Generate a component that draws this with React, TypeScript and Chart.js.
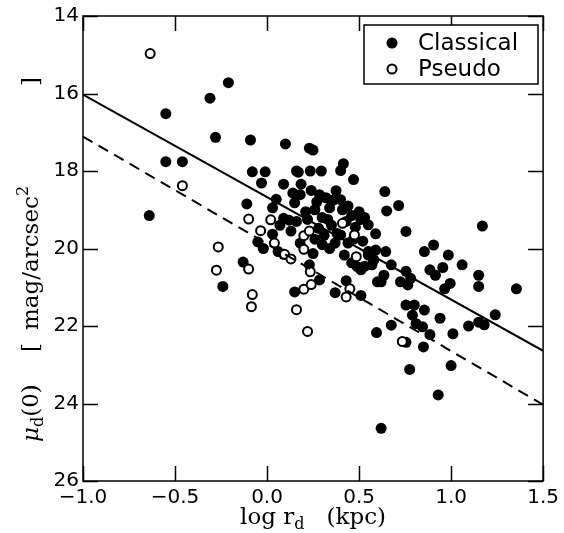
import React, { useEffect, useRef } from "react";
import { Chart, registerables } from "chart.js";

Chart.register(...registerables);

// ---- data ----
const CLASSICAL: [number, number][] = [
  [-0.64, 19.15], [-0.55, 16.52], [-0.55, 17.76], [-0.46, 17.76], [-0.31, 16.12], [-0.28, 17.13],
  [-0.21, 15.72], [-0.24, 20.98], [-0.13, 20.35], [-0.11, 18.85], [-0.09, 17.2], [-0.08, 18.02],
  [-0.01, 18.02], [-0.03, 18.31], [-0.05, 19.83], [-0.02, 20.0], [0.03, 18.95], [0.05, 18.73],
  [0.03, 19.63], [0.06, 20.08], [0.09, 20.15], [0.09, 18.34], [0.10, 17.3], [0.09, 19.22],
  [0.12, 19.27], [0.16, 19.3], [0.16, 18.0], [0.23, 17.41], [0.25, 17.46], [0.235, 18.0],
  [0.17, 18.03], [0.295, 18.0], [0.14, 18.57], [0.18, 18.61], [0.15, 18.82], [0.185, 18.34],
  [0.15, 21.12], [0.18, 19.86], [0.25, 20.13], [0.23, 20.42], [0.285, 20.81], [0.285, 18.61],
  [0.32, 18.69], [0.375, 18.51], [0.40, 18.74], [0.415, 17.81], [0.40, 17.99], [0.47, 18.22],
  [0.21, 19.05], [0.26, 19.0], [0.34, 18.95], [0.41, 19.0], [0.46, 19.15], [0.51, 19.25],
  [0.28, 19.48], [0.26, 19.76], [0.31, 19.66], [0.35, 19.4], [0.38, 19.61], [0.37, 19.86],
  [0.44, 19.86], [0.47, 19.76], [0.52, 19.81], [0.42, 20.17], [0.46, 20.37], [0.49, 20.47],
  [0.55, 20.17], [0.57, 20.42], [0.37, 21.14], [0.43, 20.83], [0.51, 21.21], [0.53, 20.46],
  [0.51, 20.55], [0.55, 20.08], [0.58, 20.29], [0.59, 20.04], [0.645, 20.08], [0.50, 19.05],
  [0.53, 19.2], [0.55, 19.39], [0.59, 19.62], [0.64, 18.53], [0.65, 19.03], [0.715, 18.89],
  [0.755, 19.56], [0.60, 20.86], [0.62, 20.86], [0.635, 20.69], [0.675, 20.42], [0.725, 20.86],
  [0.755, 20.59], [0.78, 20.77], [0.765, 20.94], [0.855, 20.08], [0.905, 19.91], [0.985, 20.17],
  [1.06, 20.42], [0.955, 20.49], [0.885, 20.55], [0.915, 20.69], [1.15, 20.69], [1.15, 20.98],
  [1.355, 21.04], [0.995, 20.9], [0.965, 21.04], [1.17, 19.42], [0.755, 21.46], [0.80, 21.46],
  [0.79, 21.72], [0.855, 21.59], [0.81, 21.94], [0.845, 22.02], [0.94, 21.8], [0.675, 21.98],
  [0.595, 22.17], [0.885, 22.22], [1.01, 22.2], [1.095, 22.0], [1.15, 21.9], [1.18, 21.97],
  [1.24, 21.71], [0.755, 22.42], [0.85, 22.54], [0.775, 23.12], [1.0, 23.02], [0.93, 23.78],
  [0.62, 24.64], [0.30, 19.2], [0.33, 19.25], [0.27, 18.8], [0.36, 18.75], [0.43, 19.3],
  [0.48, 19.45], [0.40, 19.65], [0.22, 19.25], [0.30, 19.9], [0.34, 20.0], [0.24, 18.5],
  [0.44, 18.9], [0.07, 19.4], [0.13, 19.55],
];

const PSEUDO: [number, number][] = [
  [-0.635, 14.97], [-0.46, 18.38], [-0.265, 19.96], [-0.275, 20.56], [-0.10, 19.24], [0.02, 19.26],
  [-0.035, 19.54], [0.04, 19.86], [0.095, 20.15], [0.13, 20.27], [-0.10, 20.53], [-0.08, 21.19],
  [-0.085, 21.5], [0.20, 21.05], [0.16, 21.58], [0.20, 19.67], [0.23, 19.55], [0.20, 20.02],
  [0.235, 20.6], [0.24, 20.93], [0.22, 22.14], [0.41, 19.35], [0.475, 19.65], [0.485, 20.21],
  [0.45, 21.04], [0.43, 21.25], [0.735, 22.4],
];

const FIT_X = [-1.0, 1.5];
const SOLID_Y = [16.03, 22.64];
const DASHED_Y = [17.11, 24.03];

const X_TICKS = [-1.0, -0.5, 0.0, 0.5, 1.0, 1.5];
const Y_TICKS = [14, 16, 18, 20, 22, 24, 26];

const LEGEND_LABELS = ["Classical", "Pseudo"];

const SERIF = '"DejaVu Serif", serif';
const SANS = '"DejaVu Sans", sans-serif';

type Seg = { t: string; f: string; dy?: number; at?: number };

function drawRich(ctx: CanvasRenderingContext2D, segs: Seg[], cx: number, cy: number) {
  let total = 0;
  for (const s of segs) {
    ctx.font = s.f;
    total += ctx.measureText(s.t).width;
  }
  let x = cx - total / 2;
  ctx.textAlign = "left";
  ctx.textBaseline = "alphabetic";
  for (const s of segs) {
    ctx.font = s.f;
    ctx.fillText(s.t, x, cy + (s.dy || 0));
    x += ctx.measureText(s.t).width;
  }
}

// segments placed at explicit start positions (used for rotated label)
function drawPlaced(ctx: CanvasRenderingContext2D, segs: Seg[]) {
  let x = 0;
  ctx.textAlign = "left";
  ctx.textBaseline = "alphabetic";
  for (const s of segs) {
    if (s.at !== undefined) x = s.at;
    ctx.font = s.f;
    ctx.fillText(s.t, x, s.dy || 0);
    x += ctx.measureText(s.t).width;
  }
}

const decorPlugin = {
  id: "decor",
  afterDraw(chart: any) {
    const { ctx, chartArea: a, scales } = chart;
    const xs = scales.x;
    const ys = scales.y;
    ctx.save();
    ctx.strokeStyle = "#000";
    ctx.fillStyle = "#000";
    ctx.lineWidth = 1.5;
    ctx.strokeRect(a.left, a.top, a.right - a.left, a.bottom - a.top);
    const TL = 15;
    ctx.beginPath();
    for (const v of X_TICKS) {
      const p = Math.round(xs.getPixelForValue(v)) + 0.5;
      ctx.moveTo(p, a.bottom);
      ctx.lineTo(p, a.bottom - TL);
      ctx.moveTo(p, a.top);
      ctx.lineTo(p, a.top + TL);
    }
    for (const v of Y_TICKS) {
      const p = Math.round(ys.getPixelForValue(v)) + 0.5;
      ctx.moveTo(a.left, p);
      ctx.lineTo(a.left + TL, p);
      ctx.moveTo(a.right, p);
      ctx.lineTo(a.right - TL, p);
    }
    ctx.stroke();

    const big = `23px ${SERIF}`;
    const small = `16px ${SERIF}`;
    drawRich(
      ctx,
      [
        { t: "log r", f: big },
        { t: "d", f: small, dy: 5 },
        { t: "   (kpc)", f: big },
      ],
      (a.left + a.right) / 2,
      524
    );

    // y title (rotated; 'at' is minus the screen y where the piece starts)
    ctx.save();
    ctx.translate(38, 0);
    ctx.rotate(-Math.PI / 2);
    drawPlaced(ctx, [
      { t: "\u03bc", f: `italic 23px ${SERIF}`, at: -442 },
      { t: "d", f: small, dy: 5 },
      { t: "(0)", f: big },
      { t: "[", f: big, at: -352 },
      { t: "mag/arcsec", f: big, at: -330 },
      { t: "2", f: small, dy: -10 },
      { t: "]", f: big, at: -86 },
    ]);
    ctx.restore();

    // legend
    const bx = 364, by = 25, bw = 174, bh = 59;
    ctx.fillStyle = "#fff";
    ctx.fillRect(bx, by, bw, bh);
    ctx.lineWidth = 1.5;
    ctx.strokeStyle = "#000";
    ctx.strokeRect(bx, by, bw, bh);
    ctx.font = `23px ${SANS}`;
    ctx.textAlign = "left";
    ctx.textBaseline = "middle";
    const rows = [by + 18, by + 44];
    ctx.fillStyle = "#000";
    ctx.beginPath();
    ctx.arc(392, rows[0], 5.5, 0, Math.PI * 2);
    ctx.fill();
    ctx.fillText(LEGEND_LABELS[0], 418, rows[0] + 1);
    ctx.beginPath();
    ctx.arc(392, rows[1], 4.5, 0, Math.PI * 2);
    ctx.fillStyle = "#fff";
    ctx.fill();
    ctx.lineWidth = 2;
    ctx.stroke();
    ctx.fillStyle = "#000";
    ctx.fillText(LEGEND_LABELS[1], 418, rows[1] + 1);
    ctx.restore();
  },
};

function fmtX(v: number) {
  return (v < 0 ? "\u2212" : "") + Math.abs(v).toFixed(1);
}

export default function App() {
  const ref = useRef<HTMLCanvasElement | null>(null);
  useEffect(() => {
    if (!ref.current) return;
    const chart = new Chart(ref.current, {
      type: "scatter",
      data: {
        datasets: [
          {
            label: LEGEND_LABELS[0],
            data: CLASSICAL.map(([x, y]) => ({ x, y })),
            backgroundColor: "#000",
            borderColor: "#000",
            borderWidth: 0,
            pointRadius: 5.5,
            order: 3,
          },
          {
            label: LEGEND_LABELS[1],
            data: PSEUDO.map(([x, y]) => ({ x, y })),
            backgroundColor: "#fff",
            borderColor: "#000",
            borderWidth: 2,
            pointRadius: 4.5,
            order: 2,
          },
          {
            label: "fit",
            data: FIT_X.map((x, i) => ({ x, y: SOLID_Y[i] })),
            showLine: true,
            borderColor: "#000",
            borderWidth: 2,
            pointRadius: 0,
            order: 1,
          },
          {
            label: "fit2",
            data: FIT_X.map((x, i) => ({ x, y: DASHED_Y[i] })),
            showLine: true,
            borderColor: "#000",
            borderWidth: 2,
            borderDash: [11, 7],
            pointRadius: 0,
            order: 1,
          },
        ],
      },
      options: {
        responsive: false,
        animation: false,
        layout: { padding: { top: 15, right: 20, left: 0, bottom: 0 } },
        plugins: { legend: { display: false }, tooltip: { enabled: false } },
        scales: {
          x: {
            type: "linear",
            min: -1,
            max: 1.5,
            afterBuildTicks: (s: any) => {
              s.ticks = X_TICKS.map((v) => ({ value: v }));
            },
            afterFit: (s: any) => {
              s.height = 52;
            },
            grid: { display: false, drawTicks: false },
            border: { display: false },
            ticks: {
              callback: (v: any) => fmtX(Number(v)),
              font: { family: SANS, size: 20 },
              color: "#000",
              padding: 5,
              maxRotation: 0,
              autoSkip: false,
            },
          },
          y: {
            type: "linear",
            reverse: true,
            min: 14,
            max: 26,
            afterBuildTicks: (s: any) => {
              s.ticks = Y_TICKS.map((v) => ({ value: v }));
            },
            afterFit: (s: any) => {
              s.width = 83;
            },
            grid: { display: false, drawTicks: false },
            border: { display: false },
            ticks: {
              callback: (v: any) => String(v),
              font: { family: SANS, size: 20 },
              color: "#000",
              padding: 4,
              autoSkip: false,
            },
          },
        },
      },
      plugins: [decorPlugin],
    });
    return () => chart.destroy();
  }, []);
  return (
    <canvas
      ref={ref}
      width={564}
      height={533}
      style={{ position: "absolute", left: 0, top: 0, display: "block" }}
    />
  );
}
